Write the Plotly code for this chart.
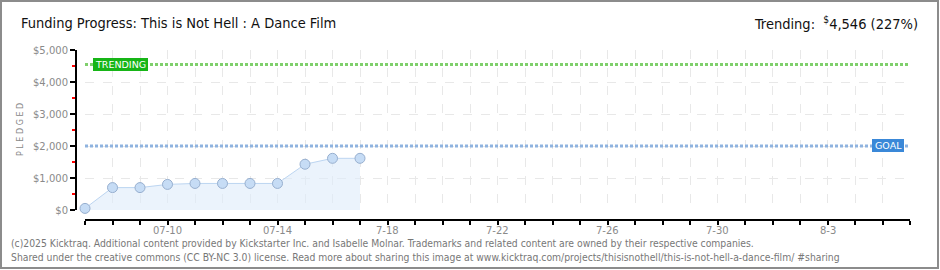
import plotly.graph_objects as go

# ---- data ----
dates = ["2025-07-07", "2025-07-08", "2025-07-09", "2025-07-10", "2025-07-11",
         "2025-07-12", "2025-07-13", "2025-07-14", "2025-07-15", "2025-07-16",
         "2025-07-17"]
pledged = [50, 700, 700, 800, 830, 830, 830, 830, 1430, 1615, 1615]
goal = 2000
trending = 4546
x_start = "2025-07-07"
x_end = "2025-08-06"
tick_days = ["2025-07-%02d" % d for d in range(7, 32)] + ["2025-08-%02d" % d for d in range(1, 7)]
label_map = {"2025-07-10": "07-10", "2025-07-14": "07-14", "2025-07-18": "7-18",
             "2025-07-22": "7-22", "2025-07-26": "7-26", "2025-07-30": "7-30",
             "2025-08-03": "8-3"}
y_ticks = [0, 1000, 2000, 3000, 4000, 5000]
y_tick_text = ["$0", "$1,000", "$2,000", "$3,000", "$4,000", "$5,000"]

W, H = 940, 270
ML, MR, MT, MB = 76, 30, 50, 50
PW = W - ML - MR
PH = H - MT - MB


def px(xp):
    return (xp - ML) / PW


def py(yp):
    return (H - MB - yp) / PH


fig = go.Figure()

fig.add_trace(go.Scatter(
    x=dates, y=pledged, mode="lines+markers",
    line=dict(color="#bcd5f1", width=1),
    fill="tozeroy", fillcolor="rgba(222,235,250,0.6)",
    marker=dict(size=10, color="#c6dcf5", line=dict(color="#97afcf", width=1)),
    hoverinfo="skip", showlegend=False, cliponaxis=False,
))

# goal & trending lines
for val, col in [(goal, "#8fb3df"), (trending, "#7fcf6c")]:
    fig.add_shape(type="line", xref="x", yref="y", x0=x_start, x1=x_end, y0=val, y1=val,
                  line=dict(color=col, width=3, dash="3px,2px"), layer="above")

tick_font = dict(family="DejaVu Sans", size=10, color="#8a8a8a")

fig.update_layout(
    width=W, height=H,
    margin=dict(l=ML, r=MR, t=MT, b=MB),
    paper_bgcolor="white", plot_bgcolor="white",
    xaxis=dict(
        type="date", range=[x_start, x_end],
        domain=[px(85), 1], anchor="free", position=0,
        tickvals=tick_days, showticklabels=False,
        ticks="outside", ticklen=4, tickcolor="#000", tickwidth=1.5,
        showline=True, linecolor="#000", linewidth=2,
        showgrid=True, gridcolor="#e8e8e8", griddash="dash", gridwidth=1,
        zeroline=False, fixedrange=True,
    ),
    yaxis=dict(
        range=[0, 5000], domain=[py(210), 1], anchor="free", position=0,
        tickvals=y_ticks, ticktext=y_tick_text,
        ticks="outside", ticklen=5, tickcolor="#000", tickwidth=1.5,
        minor=dict(dtick=500, ticks="outside", ticklen=3, tickcolor="#ff0000", tickwidth=1.5, showgrid=False),
        showline=True, linecolor="#000", linewidth=2,
        showgrid=True, gridcolor="#e8e8e8", griddash="dash", gridwidth=1,
        zeroline=False, tickfont=tick_font, fixedrange=True,
    ),
)

# x tick labels
for d, lab in label_map.items():
    fig.add_annotation(xref="x", yref="paper", x=d, y=py(230), text=lab, showarrow=False,
                       xanchor="center", yanchor="middle", font=tick_font)

# labels boxes
fig.add_shape(type="rect", xref="paper", yref="paper", x0=px(93), x1=px(148), y0=py(71), y1=py(58),
              fillcolor="#17b517", line=dict(width=0), layer="above")
fig.add_annotation(xref="paper", yref="paper", x=px(120.5), y=py(64.5), text="TRENDING",
                   showarrow=False, font=dict(family="DejaVu Sans", size=9.5, color="white"),
                   xanchor="center", yanchor="middle")
fig.add_shape(type="rect", xref="paper", yref="paper", x0=px(872), x1=px(904), y0=py(152), y1=py(139),
              fillcolor="#3a88d8", line=dict(width=0), layer="above")
fig.add_annotation(xref="paper", yref="paper", x=px(888), y=py(145.5), text="GOAL",
                   showarrow=False, font=dict(family="DejaVu Sans", size=9.5, color="white"),
                   xanchor="center", yanchor="middle")

# title & trending text
head_font = dict(family="Liberation Sans Narrow, DejaVu Sans Condensed", size=14.5, color="#111")
fig.add_annotation(xref="paper", yref="paper", x=px(19), y=py(23), text="Funding Progress: This is Not Hell : A Dance Film",
                   showarrow=False, xanchor="left", yanchor="middle", font=head_font)
fig.add_annotation(xref="paper", yref="paper", x=px(920), y=py(23),
                   text="Trending:  <sup>$</sup>4,546 (227%)",
                   showarrow=False, xanchor="right", yanchor="middle", font=head_font)

# y axis title
fig.add_annotation(xref="paper", yref="paper", x=px(20), y=py(130), text="P L E D G E D",
                   showarrow=False, textangle=-90, xanchor="center", yanchor="middle",
                   font=dict(family="DejaVu Sans", size=8, color="#888"))

# footer
foot_font = dict(family="Liberation Sans Narrow, DejaVu Sans Condensed", size=10.3, color="#777")
fig.add_annotation(xref="paper", yref="paper", x=px(9), y=py(243),
                   text="(c)2025 Kicktraq. Additional content provided by Kickstarter Inc. and Isabelle Molnar. Trademarks and related content are owned by their respective companies.",
                   showarrow=False, xanchor="left", yanchor="middle", font=foot_font)
fig.add_annotation(xref="paper", yref="paper", x=px(9), y=py(257),
                   text="Shared under the creative commons (CC BY-NC 3.0) license. Read more about sharing this image at www.kicktraq.com/projects/thisisnothell/this-is-not-hell-a-dance-film/ #sharing",
                   showarrow=False, xanchor="left", yanchor="middle", font=foot_font)

# border
fig.add_shape(type="rect", xref="paper", yref="paper", x0=px(1), x1=px(938), y0=py(268), y1=py(1),
              line=dict(color="#8c8c8c", width=2), fillcolor="rgba(0,0,0,0)", layer="above")

fig.write_html("out.html")
